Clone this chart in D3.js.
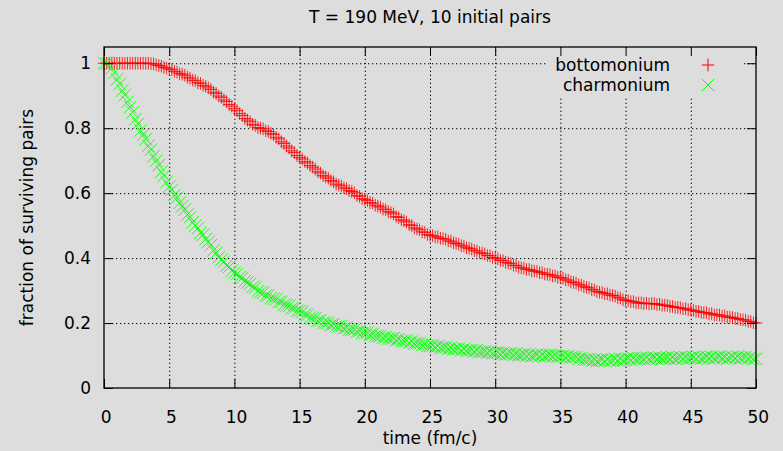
<!DOCTYPE html>
<html>
<head>
<meta charset="utf-8">
<script src="https://cdn.jsdelivr.net/npm/d3@7"></script>
<style>
  body { margin: 0; background: #dcdddc; }
  text { font-family: "DejaVu Sans", sans-serif; font-size: 17px; fill: #000; }
</style>
</head>
<body>
<svg width="783" height="451"></svg>
<script>
// fraction of surviving pairs vs time, sampled every 0.2 fm/c
const timeStep = 0.2;

const bottomonium = [
  1, 1, 1, 1, 1,  1, 1, 1, 1, 1,  1, 1, 1, 1, 1,  1, 1, 1, 0.999, 0.998,
  0.995, 0.993, 0.991, 0.987, 0.985,  0.982, 0.98, 0.975, 0.973, 0.968,
  0.966, 0.963, 0.957, 0.954, 0.948,  0.946, 0.94, 0.938, 0.932, 0.929,
  0.924, 0.919, 0.911, 0.907, 0.899,  0.895, 0.887, 0.882, 0.873, 0.868,
  0.86, 0.854, 0.845, 0.839, 0.83,  0.825, 0.82, 0.812, 0.809, 0.802,
  0.8, 0.798, 0.792, 0.79, 0.784,  0.78, 0.772, 0.767, 0.758, 0.753,
  0.745, 0.739, 0.73, 0.725, 0.716,  0.71, 0.705, 0.697, 0.693, 0.685,
  0.68, 0.674, 0.666, 0.662, 0.654,  0.65, 0.646, 0.639, 0.635, 0.628,
  0.625, 0.622, 0.616, 0.614, 0.608,  0.605, 0.601, 0.593, 0.59, 0.583,
  0.58, 0.577, 0.571, 0.569, 0.563,  0.56, 0.557, 0.551, 0.549, 0.543,
  0.54, 0.536, 0.528, 0.525, 0.518,  0.515, 0.511, 0.503, 0.5, 0.493,
  0.49, 0.487, 0.481, 0.479, 0.473,  0.47, 0.469, 0.465, 0.465, 0.461,
  0.46, 0.458, 0.453, 0.452, 0.447,  0.445, 0.443, 0.438, 0.437, 0.432,
  0.43, 0.428, 0.423, 0.422, 0.417,  0.415, 0.413, 0.408, 0.407, 0.402,
  0.4, 0.398, 0.393, 0.392, 0.387,  0.385, 0.383, 0.378, 0.377, 0.372,
  0.37, 0.369, 0.365, 0.365, 0.361,  0.36, 0.359, 0.355, 0.355, 0.351,
  0.35, 0.349, 0.345, 0.345, 0.341,  0.34, 0.338, 0.333, 0.332, 0.327,
  0.325, 0.323, 0.318, 0.317, 0.312,  0.31, 0.308, 0.303, 0.302, 0.297,
  0.295, 0.294, 0.29, 0.29, 0.286,  0.285, 0.283, 0.278, 0.277, 0.272,
  0.27, 0.269, 0.266, 0.266, 0.262,  0.262, 0.262, 0.26, 0.261, 0.259,
  0.26, 0.26, 0.257, 0.258, 0.255,  0.255, 0.254, 0.251, 0.251, 0.248,
  0.248, 0.247, 0.244, 0.244, 0.241,  0.24, 0.239, 0.236, 0.236, 0.233,
  0.232, 0.232, 0.228, 0.229, 0.225,  0.225, 0.225, 0.221, 0.222, 0.218,
  0.218, 0.217, 0.214, 0.214, 0.211,  0.21, 0.209, 0.205, 0.205, 0.201,
  0.2
];

const charmonium = [
  1, 0.999, 0.995, 0.985, 0.97,  0.95, 0.936, 0.916, 0.902, 0.881,
  0.865, 0.849, 0.827, 0.813, 0.793,  0.78, 0.766, 0.746, 0.734, 0.714,
  0.7, 0.686, 0.666, 0.654, 0.634,  0.62, 0.61, 0.594, 0.586, 0.57,
  0.56, 0.55, 0.534, 0.526, 0.51,  0.5, 0.492, 0.478, 0.472, 0.458,
  0.45, 0.44, 0.424, 0.416, 0.402,  0.395, 0.389, 0.377, 0.373, 0.361,
  0.355, 0.351, 0.341, 0.339, 0.329,  0.325, 0.321, 0.311, 0.309, 0.299,
  0.295, 0.293, 0.285, 0.285, 0.277,  0.275, 0.273, 0.265, 0.265, 0.257,
  0.255, 0.253, 0.246, 0.246, 0.238,  0.237, 0.234, 0.226, 0.225, 0.217,
  0.215, 0.214, 0.207, 0.208, 0.201,  0.2, 0.2, 0.194, 0.196, 0.19,
  0.19, 0.19, 0.184, 0.186, 0.18,  0.18, 0.18, 0.174, 0.176, 0.17,
  0.17, 0.17, 0.164, 0.166, 0.16,  0.16, 0.16, 0.155, 0.157, 0.152,
  0.152, 0.153, 0.147, 0.15, 0.144,  0.145, 0.146, 0.14, 0.143, 0.137,
  0.138, 0.138, 0.133, 0.135, 0.13,  0.13, 0.131, 0.126, 0.129, 0.124,
  0.125, 0.126, 0.121, 0.124, 0.119,  0.12, 0.121, 0.116, 0.12, 0.115,
  0.116, 0.117, 0.113, 0.116, 0.111,  0.112, 0.113, 0.109, 0.112, 0.107,
  0.108, 0.109, 0.105, 0.108, 0.104,  0.105, 0.106, 0.102, 0.105, 0.101,
  0.102, 0.104, 0.099, 0.103, 0.098,  0.1, 0.102, 0.098, 0.102, 0.098,
  0.1, 0.102, 0.098, 0.101, 0.097,  0.098, 0.099, 0.095, 0.098, 0.094,
  0.095, 0.095, 0.09, 0.092, 0.088,  0.088, 0.088, 0.084, 0.087, 0.083,
  0.085, 0.087, 0.083, 0.087, 0.084,  0.086, 0.089, 0.085, 0.09, 0.086,
  0.088, 0.091, 0.087, 0.092, 0.088,  0.09, 0.092, 0.089, 0.093, 0.089,
  0.091, 0.093, 0.09, 0.094, 0.09,  0.092, 0.094, 0.09, 0.094, 0.09,
  0.092, 0.095, 0.091, 0.095, 0.091,  0.093, 0.095, 0.091, 0.095, 0.091,
  0.093, 0.096, 0.092, 0.096, 0.092,  0.094, 0.096, 0.092, 0.095, 0.091,
  0.093, 0.096, 0.092, 0.097, 0.093,  0.094, 0.095, 0.091, 0.094, 0.089,
  0.09
];

const xTicks = [0, 5, 10, 15, 20, 25, 30, 35, 40, 45, 50];
const yTicks = [0, 0.2, 0.4, 0.6, 0.8, 1];

const seriesNames = ["bottomonium", "charmonium"];
const seriesColors = ["#ff0000", "#00ff00"];

var svg = d3.select("svg"),
  margin = { top: 47, right: 27, bottom: 63, left: 104 },
  width = +svg.attr("width") - margin.left - margin.right,
  height = +svg.attr("height") - margin.top - margin.bottom;

var g = svg.append("g")
  .attr("transform", "translate(" + margin.left + "," + margin.top + ")");

var xScale = d3.scaleLinear().domain([0, 50]).range([0, width]);
var yScale = d3.scaleLinear().domain([0, 1.05]).range([height, 0]);

// grid
g.append("g")
  .attr("transform", "translate(0," + height + ")")
  .call(d3.axisBottom(xScale).tickValues(xTicks.slice(1, -1)).tickSize(-height).tickFormat(""))
  .call(a => a.select(".domain").remove())
  .selectAll("line")
  .attr("stroke", "#000").attr("stroke-dasharray", "1.3,2.7");
g.append("g")
  .call(d3.axisLeft(yScale).tickValues(yTicks.slice(1)).tickSize(-width).tickFormat(""))
  .call(a => a.select(".domain").remove())
  .selectAll("line")
  .attr("stroke", "#000").attr("stroke-dasharray", "1.3,2.7");

// markers
const h = 6.3;
const plusPath = `M${-h},0H${h}M0,${-h}V${h}`;
const crossPath = `M${-h},${-h}L${h},${h}M${-h},${h}L${h},${-h}`;
const markerPaths = [plusPath, crossPath];

[bottomonium, charmonium].forEach((vals, index) => {
  g.append("g")
    .selectAll("path")
    .data(vals)
    .enter()
    .append("path")
    .attr("d", markerPaths[index])
    .attr("transform", (d, i) => `translate(${xScale(i * timeStep)},${yScale(d)})`)
    .attr("fill", "none")
    .attr("stroke", seriesColors[index])
    .attr("stroke-width", 1)
    .attr("stroke-opacity", 0.85);
});

// opaque key box
g.append("rect")
  .attr("x", 443).attr("y", 1)
  .attr("width", 197).attr("height", 50)
  .attr("fill", "#dcdddc");

// border + ticks on all sides
g.append("rect")
  .attr("width", width).attr("height", height)
  .attr("fill", "none").attr("stroke", "#000").attr("stroke-width", 1.3);

g.append("g")
  .attr("transform", "translate(0," + height + ")")
  .call(d3.axisBottom(xScale).tickValues(xTicks).tickSize(-9).tickPadding(23).tickFormat(d3.format("d")))
  .call(a => a.select(".domain").remove())
  .call(a => a.selectAll("line").attr("stroke", "#000"))
  .call(a => a.selectAll("text").attr("font-size", null).attr("font-family", null).attr("dx", "0.1em"));
g.append("g")
  .call(d3.axisTop(xScale).tickValues(xTicks).tickSize(-9).tickFormat(""))
  .call(a => a.select(".domain").remove())
  .call(a => a.selectAll("line").attr("stroke", "#000"));
g.append("g")
  .call(d3.axisLeft(yScale).tickValues(yTicks).tickSize(-9).tickPadding(13).tickFormat(d => d === 0 || d === 1 ? d : d3.format(".1f")(d)))
  .call(a => a.select(".domain").remove())
  .call(a => a.selectAll("line").attr("stroke", "#000"))
  .call(a => a.selectAll("text").attr("font-size", null).attr("font-family", null));
g.append("g")
  .attr("transform", "translate(" + width + ",0)")
  .call(d3.axisRight(yScale).tickValues(yTicks).tickSize(-9).tickFormat(""))
  .call(a => a.select(".domain").remove())
  .call(a => a.selectAll("line").attr("stroke", "#000"));

// legend
seriesNames.forEach((name, i) => {
  g.append("text")
    .attr("x", 566).attr("y", 24 + i * 20)
    .attr("text-anchor", "end")
    .text(name);
  g.append("path")
    .attr("d", markerPaths[i])
    .attr("transform", `translate(604,${18 + i * 20})`)
    .attr("fill", "none")
    .attr("stroke", seriesColors[i]);
});

// titles
svg.append("text")
  .attr("x", margin.left + width / 2).attr("y", 23)
  .attr("text-anchor", "middle")
  .text("T = 190 MeV, 10 initial pairs");
svg.append("text")
  .attr("x", margin.left + width / 2).attr("y", 444)
  .attr("text-anchor", "middle")
  .text("time (fm/c)");
svg.append("text")
  .attr("transform", `translate(33,${margin.top + height / 2}) rotate(-90)`)
  .attr("text-anchor", "middle")
  .text("fraction of surviving pairs");
</script>
</body>
</html>
